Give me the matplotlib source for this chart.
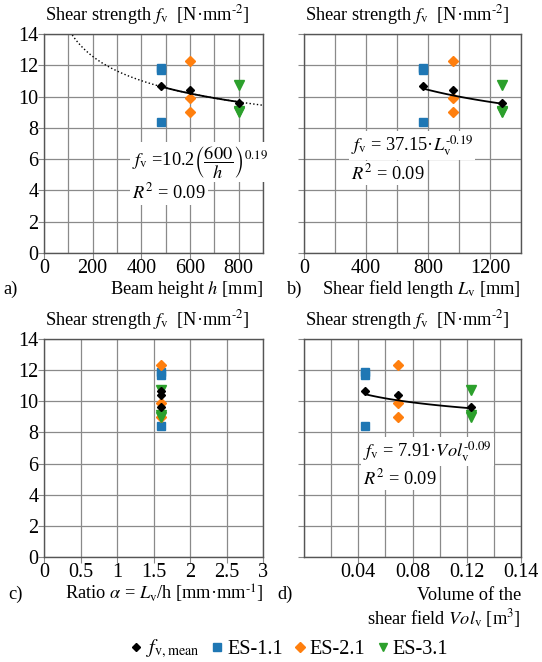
import matplotlib
matplotlib.use("Agg")
import matplotlib.pyplot as plt
import numpy as np

plt.rcParams["font.family"] = ["Liberation Serif", "DejaVu Serif"]
plt.rcParams["mathtext.fontset"] = "stix"

# beam heights of the three test series
h_mm = [480, 600, 800]
lv_mm = [768, 960, 1280]
alpha = [1.6, 1.6, 1.6]
vol_m3 = [0.045, 0.069, 0.123]

fv_mean = [10.65, 10.4, 9.62]
es11 = [11.85, 11.7, 8.4]
es21 = [12.3, 9.9, 9.0]
es31 = [10.75, 9.1, 9.0]

BLUE = "#1f77b4"
ORANGE = "#ff7f0e"
GREEN = "#2ca02c"
GRID = "#8a8a8a"

TITLE = r"Shear strength $f_\mathrm{v}$  [N·mm$^{\text{-}2}$]"
FS = 13.2
FT = 14.5


def style_axes(ax, xlim, xgrid, xticks, xticklabels, ylabels=True):
    ax.set_xlim(*xlim)
    ax.set_ylim(0, 14)
    ax.set_xticks(xgrid, minor=True)
    ax.set_xticks(xticks)
    ax.set_xticklabels(xticklabels, fontsize=FT)
    ax.set_yticks(np.arange(0, 15, 2))
    if ylabels:
        ax.set_yticklabels([str(v) for v in range(0, 15, 2)], fontsize=FT)
    else:
        ax.set_yticklabels([])
    ax.grid(True, which="both", color=GRID, lw=0.9)
    ax.set_axisbelow(True)
    ax.tick_params(axis="both", which="both", direction="out", length=4,
                   color=GRID, pad=0)
    ax.tick_params(axis="x", which="minor", length=0)
    for sp in ax.spines.values():
        sp.set_color("#555555")
        sp.set_linewidth(1.0)
    ax.text(0.005, 1.085, TITLE, transform=ax.transAxes, fontsize=FS,
            ha="left", va="center")


def scatter_series(ax, xs):
    ax.plot([xs[0]] * 3, es11, "s", color=BLUE, ms=6, ls="none", zorder=3)
    ax.plot([xs[1]] * 3, es21, "D", color=ORANGE, ms=5.5, ls="none", zorder=3)
    ax.plot([xs[2]] * 3, es31, "v", color=GREEN, ms=7, ls="none", zorder=3)
    ax.plot(xs, fv_mean, "D", color="black", ms=4, ls="none", zorder=5)


box = dict(facecolor="white", edgecolor="none", pad=1.5)

fig = plt.figure(figsize=(5.42, 6.62), dpi=100)
ax_a = fig.add_axes([44 / 542, 1 - 253 / 662, 219 / 542, 219 / 662])
ax_b = fig.add_axes([304 / 542, 1 - 253 / 662, 217 / 542, 219 / 662])
ax_c = fig.add_axes([44 / 542, 1 - 557 / 662, 219 / 542, 218 / 662])
ax_d = fig.add_axes([304 / 542, 1 - 557 / 662, 217 / 542, 218 / 662])

# a) beam height
style_axes(ax_a, (0, 900), np.arange(0, 901, 100), [0, 200, 400, 600, 800],
           ["0", "200", "400", "600", "800"])
hh = np.linspace(100, 900, 200)
ax_a.plot(hh, 10.2 * (600 / hh) ** 0.19, ":", color="black", lw=1.0)
hs = np.linspace(h_mm[0], h_mm[-1], 100)
ax_a.plot(hs, 10.2 * (600 / hs) ** 0.19, "-", color="black", lw=1.3, zorder=4)
scatter_series(ax_a, h_mm)
ax_a.text(362, 5.8, r"$f_\mathrm{v}$ =10.2$\left(\dfrac{600}{h}\right)^{0.19}$",
          fontsize=FS, va="center", ha="left", bbox=box)
ax_a.text(362, 3.85, r"$R^2$ = 0.09", fontsize=FS, va="center", ha="left", bbox=box)
fig.text(3 / 542, 1 - 289 / 662, "a)", fontsize=FS, va="center")
fig.text(263 / 542, 1 - 289 / 662, r"Beam height $h$ [mm]", fontsize=FS,
         va="center", ha="right")

# b) shear field length
style_axes(ax_b, (0, 1400), np.arange(0, 1401, 200), [0, 400, 800, 1200],
           ["0", "400", "800", "1200"], ylabels=False)
ls_ = np.linspace(lv_mm[0], lv_mm[-1], 100)
ax_b.plot(ls_, 37.15 * ls_ ** -0.19, "-", color="black", lw=1.3, zorder=4)
scatter_series(ax_b, lv_mm)
ax_b.text(303, 6.85, r"$f_\mathrm{v}$ = 37.15·$L_\mathrm{v}^{\text{-}0.19}$", fontsize=FS,
          va="center", ha="left", bbox=box)
ax_b.text(303, 5.1, r"$R^2$ = 0.09", fontsize=FS, va="center", ha="left", bbox=box)
fig.text(287 / 542, 1 - 289 / 662, "b)", fontsize=FS, va="center")
fig.text(521 / 542, 1 - 289 / 662, r"Shear field length $L_\mathrm{v}$ [mm]",
         fontsize=FS, va="center", ha="right")

# c) ratio
style_axes(ax_c, (0, 3), np.arange(0, 3.01, 0.5), [0, 0.5, 1, 1.5, 2, 2.5, 3],
           ["0", "0.5", "1", "1.5", "2", "2.5", "3"])
scatter_series(ax_c, alpha)
fig.text(8 / 542, 1 - 594 / 662, "c)", fontsize=FS, va="center")
fig.text(263 / 542, 1 - 594 / 662,
         r"Ratio $\alpha$ = $L_\mathrm{v}$/h [mm·mm$^{\text{-}1}$]",
         fontsize=FS, va="center", ha="right")

# d) volume
style_axes(ax_d, (0, 0.16), np.arange(0, 0.161, 0.02), [0.04, 0.08, 0.12, 0.16],
           ["0.04", "0.08", "0.12", "0.14"], ylabels=False)
vs = np.linspace(vol_m3[0], vol_m3[-1], 100)
ax_d.plot(vs, 7.91 * vs ** -0.09, "-", color="black", lw=1.3, zorder=4)
scatter_series(ax_d, vol_m3)
ax_d.text(0.0435, 6.75, r"$f_\mathrm{v}$ = 7.91·$Vol_\mathrm{v}^{\text{-}0.09}$", fontsize=FS,
          va="center", ha="left", bbox=box)
ax_d.text(0.0435, 5.07, r"$R^2$ = 0.09", fontsize=FS, va="center", ha="left", bbox=box)
fig.text(277 / 542, 1 - 594 / 662, "d)", fontsize=FS, va="center")
fig.text(521 / 542, 1 - 595 / 662, "Volume of the", fontsize=FS, va="center", ha="right")
fig.text(521 / 542, 1 - 618 / 662, r"shear field $Vol_\mathrm{v}$ [m$^3$]",
         fontsize=FS, va="center", ha="right")

# legend
handles = [
    plt.Line2D([], [], marker="D", color="black", ms=4, ls="none"),
    plt.Line2D([], [], marker="s", color=BLUE, ms=5.5, ls="none"),
    plt.Line2D([], [], marker="D", color=ORANGE, ms=5, ls="none"),
    plt.Line2D([], [], marker="v", color=GREEN, ms=6, ls="none"),
]
labels = [r"$f_\mathrm{v,mean}$", "ES-1.1", "ES-2.1", "ES-3.1"]
fig.legend(handles, labels, loc="center", bbox_to_anchor=(0.53, 1 - 649 / 662),
           ncol=4, frameon=False, fontsize=14.5, handletextpad=0.0,
           columnspacing=0.35, handlelength=1.0)

fig.savefig("out.png", dpi=100)
